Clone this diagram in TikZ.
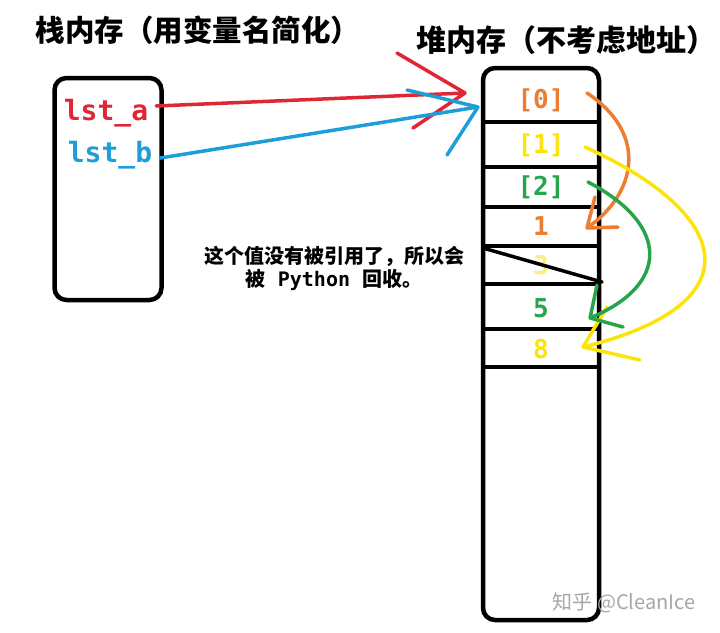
\documentclass[tikz,border=0pt]{standalone}
\usepackage{fontspec}
\usepackage{tikz}
\usetikzlibrary{positioning}
\newfontfamily\cjk{Noto Sans CJK SC}
\newfontfamily\codefont{DejaVu Sans Mono}
\definecolor{memred}{RGB}{222,38,52}
\definecolor{memblue}{RGB}{30,158,216}
\definecolor{memorange}{RGB}{237,125,49}
\definecolor{memyellow}{RGB}{252,228,10}
\definecolor{memgreen}{RGB}{40,165,75}

\begin{document}
\begin{tikzpicture}[
  x=1pt, y=-1pt,
  membox/.style={draw, line width=4.5pt, rounded corners=12pt},
  var/.style={font=\codefont\bfseries\fontsize{28}{32}\selectfont,
              minimum width=100pt, inner sep=0pt},
  cell/.style={font=\codefont\bfseries\fontsize{26}{30}\selectfont, inner sep=0pt},
  title/.style={inner sep=0pt},
  arr/.style={line width=3.5pt, line cap=round, line join=round},
  divider/.style={line width=4pt}
]
\useasboundingbox (0,0) rectangle (720,632);

\node[title, font=\cjk\bfseries\fontsize{29.5}{34}\selectfont] (stacktitle) at (198,30) {栈内存（用变量名简化）};
\node[title, font=\cjk\bfseries\fontsize{30}{36}\selectfont] (heaptitle) at (566,40) {堆内存（不考虑地址）};

% stack side
\node[membox, minimum width=107pt, minimum height=222pt] (stack) at (108,189) {};
\node[var, text=memred] (lsta) at (106,113) {lst\_a};
\node[var, text=memblue] (lstb) at (110,155) {lst\_b};

% heap side
\node[membox, minimum width=116pt, minimum height=552pt] (heap) at (541,344) {};
\foreach \y in {122,167,207,246,284,329,367}
  \draw[divider] (483,\y) -- (599,\y);
\foreach \name/\val/\col/\yy in {c0/{[0]}/memorange/100, c1/{[1]}/memyellow/145,
    c2/{[2]}/memgreen/187, c3/1/memorange/226, c4/3/memyellow!55/265,
    c5/5/memgreen/308, c6/8/memyellow/349}
  \node[cell, text=\col] (\name) at (541,\yy) {\val};

% dropped value
\draw[line width=3.5pt, line cap=round] (483,248) -- (602,282);
\node[font=\cjk\bfseries\fontsize{20}{23}\selectfont, align=center, inner sep=0pt] (note) at (334,268)
  {这个值没有被引用了，所以会\\被{\codefont\bfseries\ Python\ }回收。};

% references
\coordinate (tipa) at (465,93);
\coordinate (tipb) at (478,107);
\draw[arr, memred] ([yshift=7pt]lsta.east) -- (tipa) -- +(-68,-40) (tipa) -- +(-52,35);
\draw[arr, memblue] ([yshift=-3pt]lstb.east) -- (tipb) -- +(-71,-17) (tipb) -- +(-31,48);

% list slots pointing at values
\coordinate (o0) at (587,93);
\coordinate (tipo) at (587,228);
\coordinate (y0) at (585,147);
\coordinate (tipy) at (583,347);
\coordinate (g0) at (588,182);
\coordinate (tipg) at (590,318);
\draw[arr, memorange] (o0) .. controls (650,135) and (635,195) .. (tipo)
  -- +(8,-31) (tipo) -- +(31,-1);
\draw[arr, memyellow] (y0) .. controls (735,215) and (755,305) .. (tipy)
  -- +(24,-40) (tipy) -- +(57,13);
\draw[arr, memgreen] (g0) .. controls (670,225) and (670,285) .. (tipg)
  -- +(7,-33) (tipg) -- +(33,9);

\node[font=\cjk\fontsize{20}{24}\selectfont, text=black!35] (mark) at (624,603) {知乎 @CleanIce};
\end{tikzpicture}
\end{document}
